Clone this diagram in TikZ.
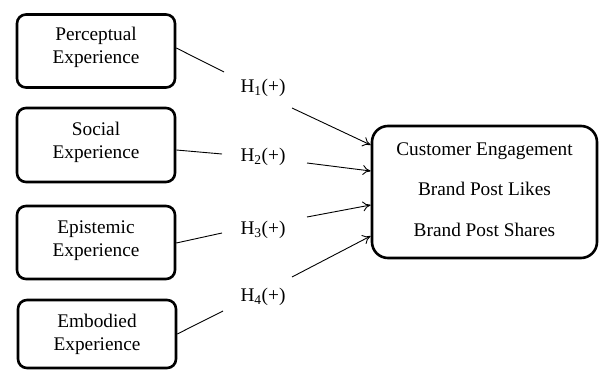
\documentclass[tikz,border=0pt]{standalone}
\usepackage{fontspec}
\setmainfont{Liberation Serif}
\usetikzlibrary{arrows.meta}
\newcommand{\twoline}[3]{\raisebox{#1}[\height][\depth]{\begin{tabular}{@{}c@{}}#2\\#3\end{tabular}}}
\begin{document}
\begin{tikzpicture}[x=1pt,y=-1pt,
  srcbox/.style={draw,line width=2.6pt,rounded corners=9pt,minimum width=158pt,inner sep=0pt,font=\fontsize{19.3}{23}\selectfont},
  hlab/.style={inner sep=0pt,font=\fontsize{19.3}{23}\selectfont},
  link/.style={line width=0.9pt},
  arr/.style={line width=0.9pt,-{To[length=8pt,width=10pt]}}]
\useasboundingbox (0,0) rectangle (600,371);
\node[srcbox,minimum height=73pt] (b1) at (96,51) {\twoline{4pt}{Perceptual}{Experience}};
\node[srcbox,minimum height=74pt] (b2) at (96,145) {\twoline{3pt}{Social}{Experience}};
\node[srcbox,minimum height=73pt] (b3) at (96,242.5) {\twoline{2.5pt}{Epistemic}{Experience}};
\node[srcbox,minimum height=68pt] (b4) at (97,334) {\twoline{0pt}{Embodied}{Experience}};
\node[draw,line width=2.6pt,rounded corners=16pt,minimum width=225pt,minimum height=132pt,inner sep=0pt,
  font=\fontsize{19.3}{40.5}\selectfont] (ce) at (484.5,192)
  {\raisebox{4.5pt}[\height][\depth]{\begin{tabular}{@{}c@{}}Customer Engagement\\Brand Post Likes\\Brand Post Shares\end{tabular}}};
\node[hlab] (h1) at (263,88) {H\textsubscript{1}(+)};
\node[hlab] (h2) at (263,157) {H\textsubscript{2}(+)};
\node[hlab] (h3) at (263,230) {H\textsubscript{3}(+)};
\node[hlab] (h4) at (263,297) {H\textsubscript{4}(+)};
\coordinate (e1) at (224,72);
\coordinate (e2) at (222,154);
\coordinate (e3) at (222,233);
\coordinate (e4) at (223,311);
\coordinate (s1) at (292,108);
\coordinate (s2) at (307,163);
\coordinate (s3) at (307,217);
\coordinate (s4) at (292,277);
\coordinate (t1) at (ce.west |- 0,145);
\coordinate (t2) at (ce.west |- 0,171);
\coordinate (t3) at (ce.west |- 0,205);
\coordinate (t4) at (ce.west |- 0,236);
\draw[link] (b1.east |- 0,48) -- (e1);
\draw[link] (b2.east |- 0,150) -- (e2);
\draw[link] (b3.east |- 0,243) -- (e3);
\draw[link] (b4.east |- 0,334) -- (e4);
\draw[arr] (s1) -- (t1);
\draw[arr] (s2) -- (t2);
\draw[arr] (s3) -- (t3);
\draw[arr] (s4) -- (t4);
\end{tikzpicture}
\end{document}
